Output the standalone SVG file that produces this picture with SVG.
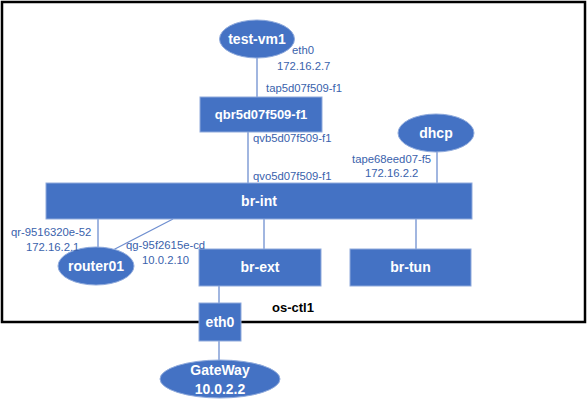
<svg xmlns="http://www.w3.org/2000/svg" width="588" height="406" viewBox="0 0 588 406">
<style>
.n{fill:#4472C4;stroke:#8FAADC;stroke-width:1}
.t{font-family:"Liberation Sans",Arial,sans-serif;font-weight:bold;font-size:14px;fill:#fff;text-anchor:middle}
.l{font-family:"Liberation Sans",Arial,sans-serif;font-size:11.3px;fill:#3A62AC}
.c{stroke:#6F8FD0;stroke-width:1.3;fill:none}
</style>
<rect x="2" y="2" width="583" height="320" fill="#fff" stroke="#000" stroke-width="2.5"/>
<g id="connectors">
<line class="c" x1="257" y1="58" x2="257" y2="97"/>
<line class="c" x1="248" y1="132" x2="248" y2="183"/>
<line class="c" x1="437" y1="152" x2="437" y2="183"/>
<line class="c" x1="98" y1="219" x2="98" y2="248"/>
<line class="c" x1="173" y1="219" x2="113" y2="250"/>
<line class="c" x1="264" y1="219" x2="264" y2="249"/>
<line class="c" x1="416" y1="219" x2="416" y2="249"/>
<line class="c" x1="219" y1="286" x2="219" y2="303"/>
<line class="c" x1="219" y1="341" x2="219" y2="361"/>
</g>
<g id="test-vm1">
<ellipse class="n" cx="257" cy="39" rx="37.5" ry="19"/>
<text class="t" x="257" y="44">test-vm1</text>
</g>
<g id="qbr">
<rect class="n" x="200" y="97" width="122" height="35"/>
<text class="t" x="261" y="119" style="font-size:13px">qbr5d07f509-f1</text>
</g>
<g id="dhcp">
<ellipse class="n" cx="436" cy="133" rx="38" ry="19"/>
<text class="t" x="436" y="138">dhcp</text>
</g>
<g id="br-int">
<rect class="n" x="46" y="183" width="426" height="36"/>
<text class="t" x="259" y="206">br-int</text>
</g>
<g id="router01">
<ellipse class="n" cx="96" cy="266" rx="38" ry="19"/>
<text class="t" x="96" y="271">router01</text>
</g>
<g id="br-ext">
<rect class="n" x="199" y="249" width="122" height="37"/>
<text class="t" x="260" y="272">br-ext</text>
</g>
<g id="br-tun">
<rect class="n" x="350" y="249" width="121" height="37"/>
<text class="t" x="410.5" y="272">br-tun</text>
</g>
<g id="eth0">
<rect class="n" x="199" y="303" width="42" height="38"/>
<text class="t" x="220" y="327">eth0</text>
</g>
<g id="gateway">
<ellipse class="n" cx="220" cy="379" rx="60" ry="19"/>
<text class="t" x="220" y="375">GateWay</text>
<text class="t" x="220" y="394">10.0.2.2</text>
</g>
<g id="labels">
<text class="l" x="292" y="54">eth0</text>
<text class="l" x="277" y="70">172.16.2.7</text>
<text class="l" x="266" y="92">tap5d07f509-f1</text>
<text class="l" x="253" y="142">qvb5d07f509-f1</text>
<text class="l" x="253" y="180">qvo5d07f509-f1</text>
<text class="l" x="352" y="163">tape68eed07-f5</text>
<text class="l" x="365" y="177">172.16.2.2</text>
<text class="l" x="11" y="236">qr-9516320e-52</text>
<text class="l" x="26" y="251">172.16.2.1</text>
<text class="l" x="126" y="249">qg-95f2615e-cd</text>
<text class="l" x="142" y="264">10.0.2.10</text>
<text x="272" y="312" style="font-family:'Liberation Sans',Arial,sans-serif;font-weight:bold;font-size:13px;fill:#000">os-ctl1</text>
</g>
</svg>
